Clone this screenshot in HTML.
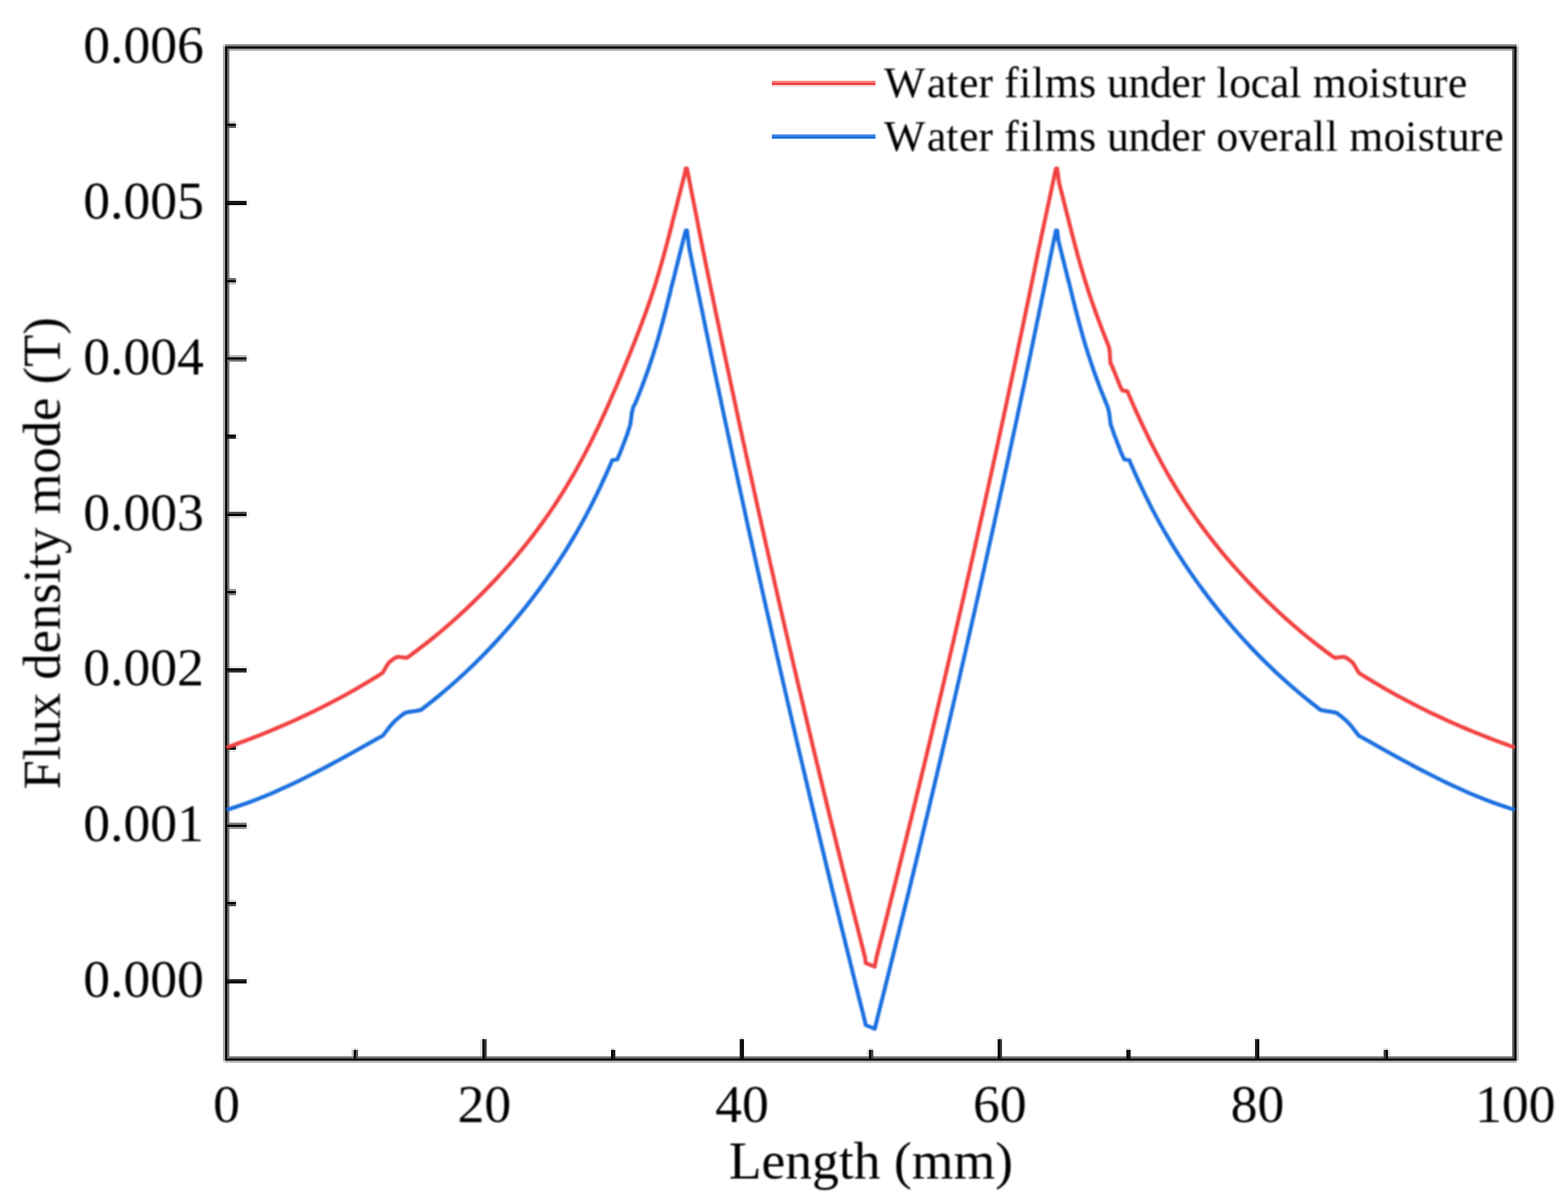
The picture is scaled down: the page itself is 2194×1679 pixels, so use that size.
<!DOCTYPE html>
<html lang="en">
<head>
<meta charset="utf-8">
<title>Flux density mode along length</title>
<style>
html,body{margin:0;padding:0;background:#fff;}
body{width:2194px;height:1679px;overflow:hidden;position:relative;}
svg{display:block;position:absolute;left:0;top:0;}
text{font-family:"Liberation Serif","Times New Roman",Times,serif;fill:#000;}
.tk{font-size:75px;}
.ti{font-size:75px;}
.lg{font-size:61px;}
</style>
</head>
<body>
<svg width="2194" height="1679" viewBox="0 0 2194 1679">
<defs>
<filter id="soft" x="-2%" y="-2%" width="104%" height="104%" color-interpolation-filters="sRGB"><feGaussianBlur stdDeviation="1.3"/></filter>
<filter id="softt" x="-2%" y="-2%" width="104%" height="104%" color-interpolation-filters="sRGB"><feGaussianBlur stdDeviation="1.0"/></filter>
</defs>
<rect x="0" y="0" width="2194" height="1679" fill="#ffffff"/>

<g id="axes" shape-rendering="crispEdges">
<rect x="312" y="62" width="3" height="3" fill="#d9d9d9"/>
<rect x="315" y="62" width="1807" height="3" fill="#808080"/>
<rect x="2122" y="62" width="3" height="3" fill="#e6e6e6"/>
<rect x="312" y="65" width="3" height="1419" fill="#a6a6a6"/>
<rect x="315" y="65" width="1807" height="3" fill="#000000"/>
<rect x="2122" y="65" width="3" height="1419" fill="#bfbfbf"/>
<rect x="315" y="68" width="3" height="1416" fill="#000000"/>
<rect x="318" y="68" width="3" height="105" fill="#737373"/>
<rect x="321" y="68" width="1795" height="3" fill="#a6a6a6"/>
<rect x="2116" y="68" width="3" height="1413" fill="#595959"/>
<rect x="2119" y="68" width="3" height="1416" fill="#000000"/>
<rect x="321" y="170" width="9" height="3" fill="#cccccc"/>
<rect x="318" y="173" width="12" height="3" fill="#000000"/>
<rect x="330" y="173" width="3" height="3" fill="#e6e6e6"/>
<rect x="318" y="176" width="12" height="3" fill="#595959"/>
<rect x="330" y="176" width="3" height="3" fill="#f2f2f2"/>
<rect x="318" y="179" width="3" height="102" fill="#737373"/>
<rect x="318" y="281" width="27" height="3" fill="#191919"/>
<rect x="345" y="281" width="3" height="6" fill="#f2f2f2"/>
<rect x="318" y="284" width="27" height="3" fill="#0d0d0d"/>
<rect x="318" y="287" width="3" height="102" fill="#737373"/>
<rect x="318" y="389" width="12" height="3" fill="#666666"/>
<rect x="330" y="389" width="3" height="3" fill="#f2f2f2"/>
<rect x="318" y="392" width="12" height="3" fill="#000000"/>
<rect x="330" y="392" width="3" height="3" fill="#e6e6e6"/>
<rect x="318" y="395" width="3" height="105" fill="#737373"/>
<rect x="321" y="395" width="9" height="3" fill="#bfbfbf"/>
<rect x="330" y="395" width="3" height="3" fill="#f2f2f2"/>
<rect x="321" y="497" width="24" height="3" fill="#b2b2b2"/>
<rect x="318" y="500" width="27" height="3" fill="#000000"/>
<rect x="345" y="500" width="3" height="6" fill="#f2f2f2"/>
<rect x="318" y="503" width="27" height="3" fill="#737373"/>
<rect x="318" y="506" width="3" height="102" fill="#737373"/>
<rect x="318" y="608" width="12" height="3" fill="#000000"/>
<rect x="330" y="608" width="3" height="6" fill="#e6e6e6"/>
<rect x="318" y="611" width="12" height="3" fill="#262626"/>
<rect x="318" y="614" width="3" height="102" fill="#737373"/>
<rect x="318" y="716" width="27" height="3" fill="#4d4d4d"/>
<rect x="345" y="716" width="3" height="6" fill="#f2f2f2"/>
<rect x="318" y="719" width="27" height="3" fill="#000000"/>
<rect x="318" y="722" width="3" height="105" fill="#737373"/>
<rect x="321" y="722" width="24" height="3" fill="#d9d9d9"/>
<rect x="321" y="824" width="9" height="3" fill="#999999"/>
<rect x="330" y="824" width="3" height="3" fill="#f2f2f2"/>
<rect x="318" y="827" width="12" height="3" fill="#000000"/>
<rect x="330" y="827" width="3" height="3" fill="#e6e6e6"/>
<rect x="318" y="830" width="3" height="105" fill="#737373"/>
<rect x="321" y="830" width="9" height="3" fill="#808080"/>
<rect x="330" y="830" width="3" height="3" fill="#f2f2f2"/>
<rect x="321" y="932" width="24" height="3" fill="#e6e6e6"/>
<rect x="318" y="935" width="27" height="3" fill="#000000"/>
<rect x="345" y="935" width="3" height="6" fill="#f2f2f2"/>
<rect x="318" y="938" width="27" height="3" fill="#333333"/>
<rect x="318" y="941" width="3" height="102" fill="#737373"/>
<rect x="318" y="1043" width="12" height="3" fill="#333333"/>
<rect x="330" y="1043" width="3" height="6" fill="#e6e6e6"/>
<rect x="318" y="1046" width="12" height="3" fill="#000000"/>
<rect x="318" y="1049" width="3" height="105" fill="#737373"/>
<rect x="321" y="1049" width="9" height="3" fill="#e6e6e6"/>
<rect x="321" y="1151" width="24" height="3" fill="#808080"/>
<rect x="345" y="1151" width="3" height="9" fill="#f2f2f2"/>
<rect x="318" y="1154" width="27" height="3" fill="#000000"/>
<rect x="318" y="1157" width="3" height="105" fill="#737373"/>
<rect x="321" y="1157" width="24" height="3" fill="#999999"/>
<rect x="321" y="1259" width="9" height="3" fill="#d9d9d9"/>
<rect x="318" y="1262" width="12" height="3" fill="#000000"/>
<rect x="330" y="1262" width="3" height="3" fill="#e6e6e6"/>
<rect x="318" y="1265" width="12" height="3" fill="#4d4d4d"/>
<rect x="330" y="1265" width="3" height="3" fill="#f2f2f2"/>
<rect x="318" y="1268" width="3" height="102" fill="#737373"/>
<rect x="318" y="1370" width="27" height="3" fill="#262626"/>
<rect x="345" y="1370" width="3" height="6" fill="#f2f2f2"/>
<rect x="318" y="1373" width="27" height="3" fill="#000000"/>
<rect x="318" y="1376" width="3" height="105" fill="#737373"/>
<rect x="675" y="1451" width="3" height="3" fill="#e6e6e6"/>
<rect x="678" y="1451" width="3" height="3" fill="#f2f2f2"/>
<rect x="1035" y="1451" width="6" height="3" fill="#e6e6e6"/>
<rect x="1396" y="1451" width="6" height="3" fill="#e6e6e6"/>
<rect x="1756" y="1451" width="6" height="3" fill="#e6e6e6"/>
<rect x="672" y="1454" width="3" height="24" fill="#d9d9d9"/>
<rect x="675" y="1454" width="3" height="30" fill="#000000"/>
<rect x="678" y="1454" width="3" height="27" fill="#404040"/>
<rect x="1035" y="1454" width="3" height="27" fill="#191919"/>
<rect x="1038" y="1454" width="3" height="27" fill="#0d0d0d"/>
<rect x="1393" y="1454" width="3" height="24" fill="#f2f2f2"/>
<rect x="1396" y="1454" width="3" height="30" fill="#000000"/>
<rect x="1399" y="1454" width="3" height="27" fill="#333333"/>
<rect x="1756" y="1454" width="3" height="27" fill="#262626"/>
<rect x="1759" y="1454" width="3" height="30" fill="#000000"/>
<rect x="1762" y="1454" width="3" height="24" fill="#f2f2f2"/>
<rect x="492" y="1466" width="3" height="3" fill="#f2f2f2"/>
<rect x="495" y="1466" width="3" height="3" fill="#d9d9d9"/>
<rect x="498" y="1466" width="3" height="3" fill="#e6e6e6"/>
<rect x="855" y="1466" width="3" height="3" fill="#d9d9d9"/>
<rect x="858" y="1466" width="3" height="3" fill="#e6e6e6"/>
<rect x="1216" y="1466" width="3" height="3" fill="#d9d9d9"/>
<rect x="1219" y="1466" width="3" height="3" fill="#e6e6e6"/>
<rect x="1576" y="1466" width="3" height="3" fill="#d9d9d9"/>
<rect x="1579" y="1466" width="3" height="3" fill="#e6e6e6"/>
<rect x="1936" y="1466" width="3" height="3" fill="#e6e6e6"/>
<rect x="1939" y="1466" width="3" height="3" fill="#d9d9d9"/>
<rect x="492" y="1469" width="3" height="9" fill="#bfbfbf"/>
<rect x="495" y="1469" width="3" height="15" fill="#000000"/>
<rect x="498" y="1469" width="3" height="12" fill="#595959"/>
<rect x="855" y="1469" width="3" height="15" fill="#000000"/>
<rect x="858" y="1469" width="3" height="12" fill="#262626"/>
<rect x="1213" y="1469" width="3" height="9" fill="#d9d9d9"/>
<rect x="1216" y="1469" width="3" height="15" fill="#000000"/>
<rect x="1219" y="1469" width="3" height="12" fill="#4d4d4d"/>
<rect x="1576" y="1469" width="3" height="12" fill="#0d0d0d"/>
<rect x="1579" y="1469" width="3" height="12" fill="#191919"/>
<rect x="1936" y="1469" width="3" height="12" fill="#404040"/>
<rect x="1939" y="1469" width="3" height="15" fill="#000000"/>
<rect x="1942" y="1469" width="3" height="9" fill="#d9d9d9"/>
<rect x="321" y="1478" width="174" height="3" fill="#737373"/>
<rect x="501" y="1478" width="174" height="3" fill="#737373"/>
<rect x="681" y="1478" width="174" height="3" fill="#737373"/>
<rect x="861" y="1478" width="174" height="3" fill="#737373"/>
<rect x="1041" y="1478" width="175" height="3" fill="#737373"/>
<rect x="1222" y="1478" width="174" height="3" fill="#737373"/>
<rect x="1402" y="1478" width="174" height="3" fill="#737373"/>
<rect x="1582" y="1478" width="174" height="3" fill="#737373"/>
<rect x="1762" y="1478" width="174" height="3" fill="#737373"/>
<rect x="1942" y="1478" width="174" height="3" fill="#737373"/>
<rect x="318" y="1481" width="177" height="3" fill="#000000"/>
<rect x="498" y="1481" width="177" height="3" fill="#000000"/>
<rect x="678" y="1481" width="177" height="3" fill="#000000"/>
<rect x="858" y="1481" width="358" height="3" fill="#000000"/>
<rect x="1219" y="1481" width="177" height="3" fill="#000000"/>
<rect x="1399" y="1481" width="360" height="3" fill="#000000"/>
<rect x="1762" y="1481" width="177" height="3" fill="#000000"/>
<rect x="1942" y="1481" width="177" height="3" fill="#000000"/>
<rect x="312" y="1484" width="3" height="3" fill="#e6e6e6"/>
<rect x="315" y="1484" width="1807" height="3" fill="#b2b2b2"/>
<rect x="2122" y="1484" width="3" height="3" fill="#f2f2f2"/>
</g>
<g id="curves" fill="none" stroke-width="5.5" stroke-linejoin="round" stroke-linecap="butt" filter="url(#soft)">
<polyline stroke="#1A6FDF" points="316.8,1133.2 322.4,1131.5 330.4,1128.9 338.4,1126.2 346.4,1123.3 354.4,1120.4 362.4,1117.3 370.4,1114.0 378.4,1110.7 386.4,1107.2 394.4,1103.6 402.4,1100.0 410.4,1096.2 418.4,1092.4 426.4,1088.4 434.4,1084.4 442.4,1080.3 450.4,1076.2 458.4,1072.0 466.4,1067.7 474.4,1063.4 482.4,1059.0 490.4,1054.6 498.4,1050.1 506.4,1045.7 514.4,1041.2 522.4,1036.6 530.4,1032.1 535.6,1029.4 540.2,1023.4 546.0,1015.8 552.7,1008.6 560.4,1002.0 567.0,997.2 574.6,995.8 582.2,994.8 589.4,993.2 590.7,992.0 598.5,986.0 606.0,980.0 613.4,974.0 620.6,968.0 627.6,962.0 634.5,956.0 641.2,950.0 647.8,944.0 654.2,938.0 660.5,932.0 666.7,926.0 672.7,920.0 678.6,914.0 684.4,908.0 690.0,902.0 695.6,896.0 701.0,890.0 706.4,884.0 711.6,878.0 716.8,872.0 721.8,866.0 726.8,860.0 731.7,854.0 736.5,848.0 741.2,842.0 745.8,836.0 750.3,830.0 754.8,824.0 759.2,818.0 763.5,812.0 767.7,806.0 771.9,800.0 776.0,794.0 780.0,788.0 783.9,782.0 787.8,776.0 791.6,770.0 795.3,764.0 799.0,758.0 802.5,752.0 806.1,746.0 809.5,740.0 812.9,734.0 816.2,728.0 819.5,722.0 822.6,716.0 825.8,710.0 828.8,704.0 831.8,698.0 834.8,692.0 837.6,686.0 840.5,680.0 843.3,674.0 846.0,668.0 848.8,662.0 851.4,656.0 854.1,650.0 856.5,643.9 863.6,642.9 867.5,634.0 872.3,621.5 877.1,609.0 881.8,594.5 882.8,588.5 884.0,578.0 886.1,569.5 889.1,564.0 891.5,558.0 893.9,552.0 896.3,546.0 898.6,540.0 900.8,534.0 903.0,528.0 905.2,522.0 907.3,516.0 909.3,510.0 911.3,504.0 913.3,498.0 915.2,492.0 917.1,486.0 918.9,480.0 920.7,474.0 922.4,468.0 924.0,462.0 925.7,456.0 927.3,450.0 928.9,444.0 930.4,438.0 932.0,432.0 933.5,426.0 935.0,420.0 936.5,414.0 938.0,408.0 939.4,402.0 940.9,396.0 942.5,390.0 944.0,384.0 945.5,378.0 947.0,372.0 948.5,366.0 950.0,360.0 951.5,354.0 953.0,348.0 954.5,342.0 956.0,336.0 959.5,322.6 961.3,322.6 964.0,345.0 970.1,375.0 976.2,405.0 982.4,435.0 988.6,465.0 994.8,495.0 1001.1,525.0 1007.5,555.0 1013.8,585.0 1020.3,615.0 1026.7,645.0 1033.2,675.0 1039.8,705.0 1046.3,735.0 1053.0,765.0 1059.6,795.0 1066.3,825.0 1073.1,855.0 1079.9,885.0 1086.7,915.0 1093.6,945.0 1100.5,975.0 1107.5,1005.0 1114.5,1035.0 1121.5,1065.0 1128.6,1095.0 1135.7,1125.0 1142.9,1155.0 1150.1,1185.0 1157.3,1215.0 1164.6,1245.0 1172.0,1275.0 1179.4,1305.0 1186.8,1335.0 1194.2,1365.0 1201.7,1395.0 1209.3,1425.0 1211.3,1434.3 1224.0,1439.5 1227.5,1425.0 1235.1,1395.0 1242.6,1365.0 1250.0,1335.0 1257.4,1305.0 1264.8,1275.0 1272.2,1245.0 1279.5,1215.0 1286.7,1185.0 1293.9,1155.0 1301.1,1125.0 1308.2,1095.0 1315.3,1065.0 1322.3,1035.0 1329.3,1005.0 1336.3,975.0 1343.2,945.0 1350.1,915.0 1356.9,885.0 1363.7,855.0 1370.5,825.0 1377.2,795.0 1383.8,765.0 1390.5,735.0 1397.0,705.0 1403.6,675.0 1410.1,645.0 1416.5,615.0 1423.0,585.0 1429.3,555.0 1435.7,525.0 1442.0,495.0 1448.2,465.0 1454.4,435.0 1460.6,405.0 1466.7,375.0 1472.8,345.0 1477.5,322.6 1479.3,322.6 1480.8,336.0 1482.3,342.0 1483.8,348.0 1485.3,354.0 1486.8,360.0 1488.3,366.0 1489.8,372.0 1491.3,378.0 1492.8,384.0 1494.3,390.0 1495.9,396.0 1497.4,402.0 1498.8,408.0 1500.3,414.0 1501.8,420.0 1503.3,426.0 1504.8,432.0 1506.4,438.0 1507.9,444.0 1509.5,450.0 1511.1,456.0 1512.8,462.0 1514.4,468.0 1516.1,474.0 1517.9,480.0 1519.7,486.0 1521.6,492.0 1523.5,498.0 1525.5,504.0 1527.5,510.0 1529.5,516.0 1531.6,522.0 1533.8,528.0 1536.0,534.0 1538.2,540.0 1540.5,546.0 1542.9,552.0 1545.3,558.0 1547.7,564.0 1550.0,569.5 1552.1,578.0 1553.3,588.5 1554.3,594.5 1559.4,609.0 1564.2,621.5 1569.0,634.0 1573.2,642.9 1580.3,643.9 1582.7,650.0 1585.4,656.0 1588.0,662.0 1590.8,668.0 1593.5,674.0 1596.3,680.0 1599.2,686.0 1602.0,692.0 1605.0,698.0 1608.0,704.0 1611.0,710.0 1614.2,716.0 1617.3,722.0 1620.6,728.0 1623.9,734.0 1627.3,740.0 1630.7,746.0 1634.3,752.0 1637.8,758.0 1641.5,764.0 1645.2,770.0 1649.0,776.0 1652.9,782.0 1656.8,788.0 1660.8,794.0 1664.9,800.0 1669.1,806.0 1673.3,812.0 1677.6,818.0 1682.0,824.0 1686.5,830.0 1691.0,836.0 1695.6,842.0 1700.3,848.0 1705.1,854.0 1710.0,860.0 1715.0,866.0 1720.0,872.0 1725.2,878.0 1730.4,884.0 1735.8,890.0 1741.2,896.0 1746.8,902.0 1752.4,908.0 1758.2,914.0 1764.1,920.0 1770.1,926.0 1776.3,932.0 1782.6,938.0 1789.0,944.0 1795.6,950.0 1802.3,956.0 1809.2,962.0 1816.2,968.0 1823.4,974.0 1830.8,980.0 1838.3,986.0 1846.1,992.0 1847.4,993.2 1854.6,994.8 1862.2,995.8 1869.8,997.2 1876.4,1002.0 1884.1,1008.6 1890.8,1015.8 1896.6,1023.4 1901.2,1029.4 1906.4,1032.1 1914.4,1036.6 1922.4,1041.2 1930.4,1045.7 1938.4,1050.1 1946.4,1054.6 1954.4,1059.0 1962.4,1063.4 1970.4,1067.7 1978.4,1072.0 1986.4,1076.2 1994.4,1080.3 2002.4,1084.4 2010.4,1088.4 2018.4,1092.4 2026.4,1096.2 2034.4,1100.0 2042.4,1103.6 2050.4,1107.2 2058.4,1110.7 2066.4,1114.0 2074.4,1117.3 2082.4,1120.4 2090.4,1123.3 2098.4,1126.2 2106.4,1128.9 2114.4,1131.5 2119.9,1133.2"/>
<polyline stroke="#F14040" points="316.8,1046.0 322.4,1044.0 330.4,1041.1 338.4,1038.2 346.4,1035.2 354.4,1032.1 362.4,1029.0 370.4,1025.8 378.4,1022.5 386.4,1019.1 394.4,1015.7 402.4,1012.2 410.4,1008.7 418.4,1005.0 426.4,1001.3 434.4,997.5 442.4,993.6 450.4,989.6 458.4,985.5 466.4,981.4 474.4,977.1 482.4,972.8 490.4,968.3 498.4,963.8 506.4,959.2 514.4,954.4 522.4,949.6 530.4,944.7 535.4,941.5 539.8,933.8 544.1,927.1 549.9,922.4 555.6,919.1 561.7,919.5 568.9,920.5 575.4,916.2 575.4,916.0 583.5,910.0 591.4,904.0 599.1,898.0 606.6,892.0 613.9,886.0 621.0,880.0 628.0,874.0 634.8,868.0 641.5,862.0 648.0,856.0 654.4,850.0 660.6,844.0 666.8,838.0 672.8,832.0 678.8,826.0 684.6,820.0 690.4,814.0 696.0,808.0 701.5,802.0 706.9,796.0 712.3,790.0 717.5,784.0 722.6,778.0 727.6,772.0 732.5,766.0 737.3,760.0 742.0,754.0 746.7,748.0 751.2,742.0 755.6,736.0 760.0,730.0 764.2,724.0 768.4,718.0 772.5,712.0 776.5,706.0 780.4,700.0 784.2,694.0 788.0,688.0 791.7,682.0 795.3,676.0 798.9,670.0 802.4,664.0 805.8,658.0 809.1,652.0 812.4,646.0 815.6,640.0 818.8,634.0 821.9,628.0 825.0,622.0 828.0,616.0 830.9,610.0 833.8,604.0 836.7,598.0 839.5,592.0 842.3,586.0 845.1,580.0 847.8,574.0 850.5,568.0 853.1,562.0 855.7,556.0 858.3,550.0 860.9,544.0 863.5,538.0 866.0,532.0 868.5,526.0 871.0,520.0 873.5,514.0 876.0,508.0 878.4,502.0 880.9,496.0 883.3,490.0 885.7,484.0 888.1,478.0 890.4,472.0 892.8,466.0 895.1,460.0 897.3,454.0 899.6,448.0 901.8,442.0 904.0,436.0 906.1,430.0 908.2,424.0 910.3,418.0 912.3,412.0 914.3,406.0 916.2,400.0 918.1,394.0 919.9,388.0 921.7,382.0 923.5,376.0 925.2,370.0 926.9,364.0 928.6,358.0 930.2,352.0 931.8,346.0 933.4,340.0 935.0,334.0 936.5,328.0 938.1,322.0 939.6,316.0 941.1,310.0 942.6,304.0 944.2,298.0 945.7,292.0 947.2,286.0 948.7,280.0 950.2,274.0 951.8,268.0 953.3,262.0 954.9,256.0 956.5,250.0 959.5,235.8 961.3,235.8 983.7,350.0 989.8,380.0 996.0,410.0 1002.2,440.0 1008.5,470.0 1014.8,500.0 1021.2,530.0 1027.6,560.0 1034.0,590.0 1040.5,620.0 1047.1,650.0 1053.7,680.0 1060.3,710.0 1067.0,740.0 1073.7,770.0 1080.5,800.0 1087.3,830.0 1094.2,860.0 1101.1,890.0 1108.1,920.0 1115.1,950.0 1122.2,980.0 1129.3,1010.0 1136.4,1040.0 1143.6,1070.0 1150.9,1100.0 1158.1,1130.0 1165.5,1160.0 1172.9,1190.0 1180.3,1220.0 1187.8,1250.0 1195.3,1280.0 1202.9,1310.0 1210.5,1340.0 1211.3,1347.5 1224.0,1352.5 1226.3,1340.0 1233.9,1310.0 1241.5,1280.0 1249.0,1250.0 1256.5,1220.0 1263.9,1190.0 1271.3,1160.0 1278.7,1130.0 1285.9,1100.0 1293.2,1070.0 1300.4,1040.0 1307.5,1010.0 1314.6,980.0 1321.7,950.0 1328.7,920.0 1335.7,890.0 1342.6,860.0 1349.5,830.0 1356.3,800.0 1363.1,770.0 1369.8,740.0 1376.5,710.0 1383.1,680.0 1389.7,650.0 1396.3,620.0 1402.8,590.0 1409.2,560.0 1415.6,530.0 1422.0,500.0 1428.3,470.0 1434.6,440.0 1440.8,410.0 1447.0,380.0 1453.1,350.0 1477.5,235.8 1479.3,235.8 1481.9,256.0 1483.5,262.0 1485.0,268.0 1486.6,274.0 1488.1,280.0 1489.6,286.0 1491.1,292.0 1492.6,298.0 1494.2,304.0 1495.7,310.0 1497.2,316.0 1498.7,322.0 1500.3,328.0 1501.8,334.0 1503.4,340.0 1505.0,346.0 1506.6,352.0 1508.2,358.0 1509.9,364.0 1511.6,370.0 1513.3,376.0 1515.1,382.0 1516.9,388.0 1518.7,394.0 1520.6,400.0 1522.5,406.0 1524.5,412.0 1526.5,418.0 1528.6,424.0 1530.7,430.0 1532.8,436.0 1535.0,442.0 1537.2,448.0 1539.5,454.0 1541.7,460.0 1544.0,466.0 1546.4,472.0 1548.7,478.0 1551.1,484.0 1552.7,490.4 1553.6,507.4 1555.7,511.6 1561.9,526.8 1568.1,542.3 1570.7,546.5 1577.3,547.2 1581.1,556.0 1583.7,562.0 1586.3,568.0 1589.0,574.0 1591.7,580.0 1594.5,586.0 1597.3,592.0 1600.1,598.0 1603.0,604.0 1605.9,610.0 1608.8,616.0 1611.8,622.0 1614.9,628.0 1618.0,634.0 1621.2,640.0 1624.4,646.0 1627.7,652.0 1631.0,658.0 1634.4,664.0 1637.9,670.0 1641.5,676.0 1645.1,682.0 1648.8,688.0 1652.6,694.0 1656.4,700.0 1660.3,706.0 1664.3,712.0 1668.4,718.0 1672.6,724.0 1676.8,730.0 1681.2,736.0 1685.6,742.0 1690.1,748.0 1694.8,754.0 1699.5,760.0 1704.3,766.0 1709.2,772.0 1714.2,778.0 1719.3,784.0 1724.5,790.0 1729.9,796.0 1735.3,802.0 1740.8,808.0 1746.4,814.0 1752.2,820.0 1758.0,826.0 1764.0,832.0 1770.0,838.0 1776.2,844.0 1782.4,850.0 1788.8,856.0 1795.3,862.0 1802.0,868.0 1808.8,874.0 1815.8,880.0 1822.9,886.0 1830.2,892.0 1837.7,898.0 1845.4,904.0 1853.3,910.0 1861.4,916.0 1861.4,916.2 1867.9,920.5 1875.1,919.5 1881.2,919.1 1886.9,922.4 1892.7,927.1 1897.0,933.8 1901.4,941.5 1906.4,944.7 1914.4,949.6 1922.4,954.4 1930.4,959.2 1938.4,963.8 1946.4,968.3 1954.4,972.8 1962.4,977.1 1970.4,981.4 1978.4,985.5 1986.4,989.6 1994.4,993.6 2002.4,997.5 2010.4,1001.3 2018.4,1005.0 2026.4,1008.7 2034.4,1012.2 2042.4,1015.7 2050.4,1019.1 2058.4,1022.5 2066.4,1025.8 2074.4,1029.0 2082.4,1032.1 2090.4,1035.2 2098.4,1038.2 2106.4,1041.1 2114.4,1044.0 2119.9,1046.0"/>
</g>
<g id="legend-lines" shape-rendering="crispEdges">
<rect x="1080" y="113" width="145" height="3" fill="#F14040" fill-opacity="0.65"/>
<rect x="1080" y="116" width="145" height="3" fill="#F14040" fill-opacity="1.00"/>
<rect x="1080" y="119" width="145" height="3" fill="#F14040" fill-opacity="0.15"/>
<rect x="1080" y="188" width="145" height="3" fill="#1A6FDF" fill-opacity="0.83"/>
<rect x="1080" y="191" width="145" height="3" fill="#1A6FDF" fill-opacity="1.00"/>
</g>
<g id="labels" filter="url(#softt)">
<g class="tk">
<text x="317.1" y="1570.3" text-anchor="middle">0</text>
<text x="677.7" y="1570.3" text-anchor="middle">20</text>
<text x="1038.3" y="1570.3" text-anchor="middle">40</text>
<text x="1399.0" y="1570.3" text-anchor="middle">60</text>
<text x="1759.6" y="1570.3" text-anchor="middle">80</text>
<text x="2120.2" y="1570.3" text-anchor="middle">100</text>
<text x="285.2" y="1395.0" text-anchor="end">0.000</text>
<text x="285.2" y="1177.2" text-anchor="end">0.001</text>
<text x="285.2" y="959.3" text-anchor="end">0.002</text>
<text x="285.2" y="741.5" text-anchor="end">0.003</text>
<text x="285.2" y="523.7" text-anchor="end">0.004</text>
<text x="285.2" y="305.9" text-anchor="end">0.005</text>
<text x="285.2" y="88.0" text-anchor="end">0.006</text>
</g>
<text class="ti" x="1218.6" y="1648.7" text-anchor="middle">Length (mm)</text>
<text class="ti" transform="translate(83.7,774.2) rotate(-90) scale(0.9825,1)" text-anchor="middle">Flux density mode (T)</text>
<text class="lg" y="136.0" x="1237.0 1297.0 1324.0 1342.0 1369.0 1390.0 1405.0 1426.0 1444.0 1462.0 1510.0 1534.0 1549.0 1579.0 1609.0 1639.0 1666.0 1687.0 1702.0 1720.0 1750.0 1777.0 1804.0 1822.0 1837.0 1885.0 1915.0 1933.0 1957.0 1975.0 2005.0 2026.0">Water films under local moisture</text>
<text class="lg" y="211.1" x="1237.0 1297.0 1324.0 1342.0 1369.0 1390.0 1405.0 1426.0 1444.0 1462.0 1510.0 1534.0 1549.0 1579.0 1609.0 1639.0 1666.0 1687.0 1702.0 1732.0 1762.0 1789.0 1810.0 1837.0 1855.0 1873.0 1888.0 1936.0 1966.0 1984.0 2008.0 2026.0 2056.0 2077.0">Water films under overall moisture</text>
</g>
</svg>
</body>
</html>
